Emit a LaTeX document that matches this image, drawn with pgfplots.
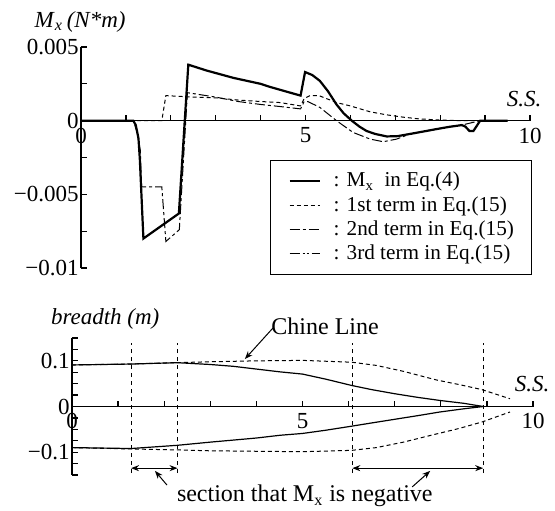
\documentclass[border=0pt]{standalone}
\usepackage{pgfplots}
\pgfplotsset{compat=1.18}
\usepackage{fontspec}
\setmainfont{Liberation Serif}
\usetikzlibrary{arrows.meta}

\pgfplotsset{
  shipaxis/.style={
    scale only axis, anchor=south west, clip=false,
    axis x line*=middle, axis y line*=left,
    xmin=0, xmax=10,
    axis line style={line width=0.65pt},
    tick style={line width=0.65pt, black},
    major tick length=3pt, minor tick length=3pt,
    tick align=inside,
    hide obscured x ticks=false, hide obscured y ticks=false,
    xtick={0,...,10}, xticklabels={0,,,,,5,,,,,10},
    scaled y ticks=false,
    tick label style={font=\fontsize{11.5}{13}\selectfont},
    yticklabel style={inner xsep=1pt},
  },
}

\begin{document}
\begin{tikzpicture}[font=\fontsize{11.5}{13}\selectfont]
\useasboundingbox (0,0) rectangle (277.5pt,255pt);

% upper panel: moment M_x
\begin{axis}[shipaxis,
    at={(40.5pt,121pt)}, width=224.5pt, height=110.5pt,
    ymin=-0.01, ymax=0.005,
    ytick={-0.01,-0.005,0,0.005}, yticklabels={−0.01,−0.005,0,0.005},
    minor ytick={-0.0075,-0.0025,0.0025},
    legend cell align=left,
    legend image code/.code={\draw[#1] (0pt,0pt) -- (15pt,0pt);},
    legend style={at={(axis cs:4.21,-0.00267)}, anchor=north west, draw=black,
      line width=0.5pt, inner xsep=9pt, inner ysep=5.8pt, row sep=3.3pt,
      nodes={inner sep=0pt, font=\fontsize{10.6}{13}\selectfont},
      /tikz/every odd column/.append style={column sep=6.5pt}},
]
\addplot[black, line width=1.1pt] coordinates {
  (0,0) (1.165,0) (1.22,-0.0003) (1.28,-0.0012) (1.31,-0.0026) (1.39,-0.0080)
  (2.18,-0.0063) (2.39,0.0038) (2.8,0.0034) (3.4,0.0029) (4.0,0.0025) (4.2,0.0023)
  (4.43,0.0021) (4.89,0.0017) (4.99,0.0033) (5.15,0.0031) (5.32,0.0027) (5.5,0.0020)
  (5.69,0.0011) (5.85,0.0005) (6.03,0) (6.2,-0.0004) (6.36,-0.0007) (6.55,-0.0009)
  (6.81,-0.00107) (7.05,-0.00105) (7.33,-0.0009) (7.6,-0.00075) (7.92,-0.00057)
  (8.2,-0.00042) (8.48,-0.0003) (8.56,-0.0004) (8.65,-0.0007) (8.74,-0.0007)
  (8.89,0) (9.5,0)
};
\addlegendentry{: M\textsubscript{x}\ \ in Eq.(4)}
\addplot[black, line width=0.5pt, dash pattern=on 2pt off 1.5pt] coordinates {
  (0,0) (1.80,0) (1.89,0.0017) (2.5,0.0016) (3.0,0.00155) (3.5,0.0014) (4.0,0.0013)
  (4.43,0.00123) (4.89,0.0010) (4.97,0.0015) (5.1,0.0017) (5.3,0.0017) (5.69,0.00123)
  (6.0,0.0010) (6.44,0.0006) (6.8,0.0004) (7.17,0.00024) (7.5,0.00013) (7.92,0.00005)
  (8.5,0) (9.5,0)
};
\addlegendentry{: 1st term in Eq.(15)}
\addplot[black, line width=0.5pt, dash pattern=on 5pt off 1.5pt on 1.5pt off 1.5pt] coordinates {
  (0,0) (1.165,0) (1.25,-0.0008) (1.32,-0.0020) (1.35,-0.0045) (1.80,-0.0045)
  (1.89,-0.0082) (2.19,-0.0074) (2.37,0.0019) (3.0,0.0016) (3.5,0.0013) (4.0,0.0011)
  (4.43,0.00096) (4.89,0.0008) (4.97,0.0013) (5.05,0.0013) (5.32,0.0009) (5.69,0)
  (6.06,-0.0008) (6.44,-0.00125) (6.73,-0.00143) (7.03,-0.00125) (7.33,-0.0009)
  (7.6,-0.00075) (7.92,-0.00057) (8.2,-0.00042) (8.48,-0.0003) (8.89,0) (9.5,0)
};
\addlegendentry{: 2nd term in Eq.(15)}
\addplot[black, line width=0.5pt, dash pattern=on 5pt off 1.5pt on 1pt off 1pt on 1pt off 1.5pt] coordinates {
  (0,0) (9.5,0)
};
\addlegendentry{: 3rd term in Eq.(15)}
\node at (axis cs:9.87,0.00145) {\textit{S.S.}};
\node at (axis cs:-0.02,0.00672) {\textit{M}\textsubscript{\textit{x}}\,\textit{(N*m)}};
\end{axis}

% lower panel: breadth
\begin{axis}[shipaxis,
    at={(36pt,17.5pt)}, width=230.5pt, height=68.5pt,
    ymin=-0.15, ymax=0.15,
    ytick={-0.1,0,0.1}, yticklabels={−0.1,0,0.1},
    minor ytick={-0.15,-0.125,-0.075,-0.05,-0.025,0.025,0.05,0.075,0.125,0.15},
]
\addplot[black, line width=0.6pt] coordinates {
  (0,0.091) (1.28,0.093) (2.28,0.096) (3,0.092) (3.5,0.088) (4,0.082) (4.5,0.076)
  (5,0.071) (5.5,0.060) (6.07,0.046) (6.5,0.037) (7,0.028) (7.5,0.020) (8,0.013)
  (8.5,0.007) (8.92,0)
};
\addplot[black, line width=0.6pt] coordinates {
  (0,-0.090) (1.28,-0.092) (2.28,-0.085) (3,-0.078) (4,-0.069) (4.51,-0.063)
  (5,-0.059) (5.5,-0.052) (6.07,-0.043) (6.5,-0.036) (7,-0.028) (7.5,-0.020)
  (7.98,-0.012) (8.5,-0.005) (8.92,0)
};
\addplot[black, line width=0.5pt, dash pattern=on 2pt off 1.5pt] coordinates {
  (0,0.091) (1.28,0.093) (2.28,0.096) (3,0.098) (4,0.100) (5,0.101) (6.07,0.097)
  (6.6,0.090) (7.19,0.077) (7.91,0.058) (8.4,0.048) (8.89,0.037) (9.5,0.017)
};
\addplot[black, line width=0.5pt, dash pattern=on 2pt off 1.5pt] coordinates {
  (0,-0.090) (1.28,-0.093) (2.28,-0.095) (3,-0.097) (4,-0.098) (5,-0.099) (6.07,-0.096)
  (6.6,-0.090) (7.19,-0.078) (7.91,-0.060) (8.4,-0.048) (8.89,-0.034) (9.5,-0.012)
};
\addplot[black, line width=0.9pt] coordinates {(0,0) (9.5,0)};
\addplot[black, line width=0.5pt, dash pattern=on 2pt off 2pt] coordinates {(1.28,-0.146) (1.28,0.138)};
\addplot[black, line width=0.5pt, dash pattern=on 2pt off 2pt] coordinates {(2.29,-0.146) (2.29,0.138)};
\addplot[black, line width=0.5pt, dash pattern=on 2pt off 2pt] coordinates {(6.08,-0.146) (6.08,0.138)};
\addplot[black, line width=0.5pt, dash pattern=on 2pt off 2pt] coordinates {(8.92,-0.146) (8.92,0.138)};
\draw[{Stealth[length=4pt,width=3pt]}-{Stealth[length=4pt,width=3pt]}, line width=0.6pt]
  (axis cs:1.28,-0.135) -- (axis cs:2.29,-0.135);
\draw[{Stealth[length=4pt,width=3pt]}-{Stealth[length=4pt,width=3pt]}, line width=0.6pt]
  (axis cs:6.08,-0.135) -- (axis cs:8.92,-0.135);
\draw[-{Stealth[length=4pt,width=3pt]}, line width=0.5pt]
  (axis cs:2.06,-0.172) -- (axis cs:1.80,-0.141);
\draw[-{Stealth[length=4pt,width=3pt]}, line width=0.5pt]
  (axis cs:7.38,-0.176) -- (axis cs:7.77,-0.141);
\draw[-{Stealth[length=4pt,width=3pt]}, line width=0.5pt]
  (axis cs:4.36,0.172) -- (axis cs:3.75,0.104);
\node[font=\fontsize{12}{14}\selectfont] at (axis cs:5.05,-0.196) {section that M\textsubscript{x} is negative};
\node[font=\fontsize{12}{14}\selectfont] at (axis cs:5.49,0.176) {Chine Line};
\node at (axis cs:9.98,0.05) {\textit{S.S.}};
\node at (axis cs:0.72,0.191) {\textit{breadth (m)}};
\end{axis}
\end{tikzpicture}
\end{document}
